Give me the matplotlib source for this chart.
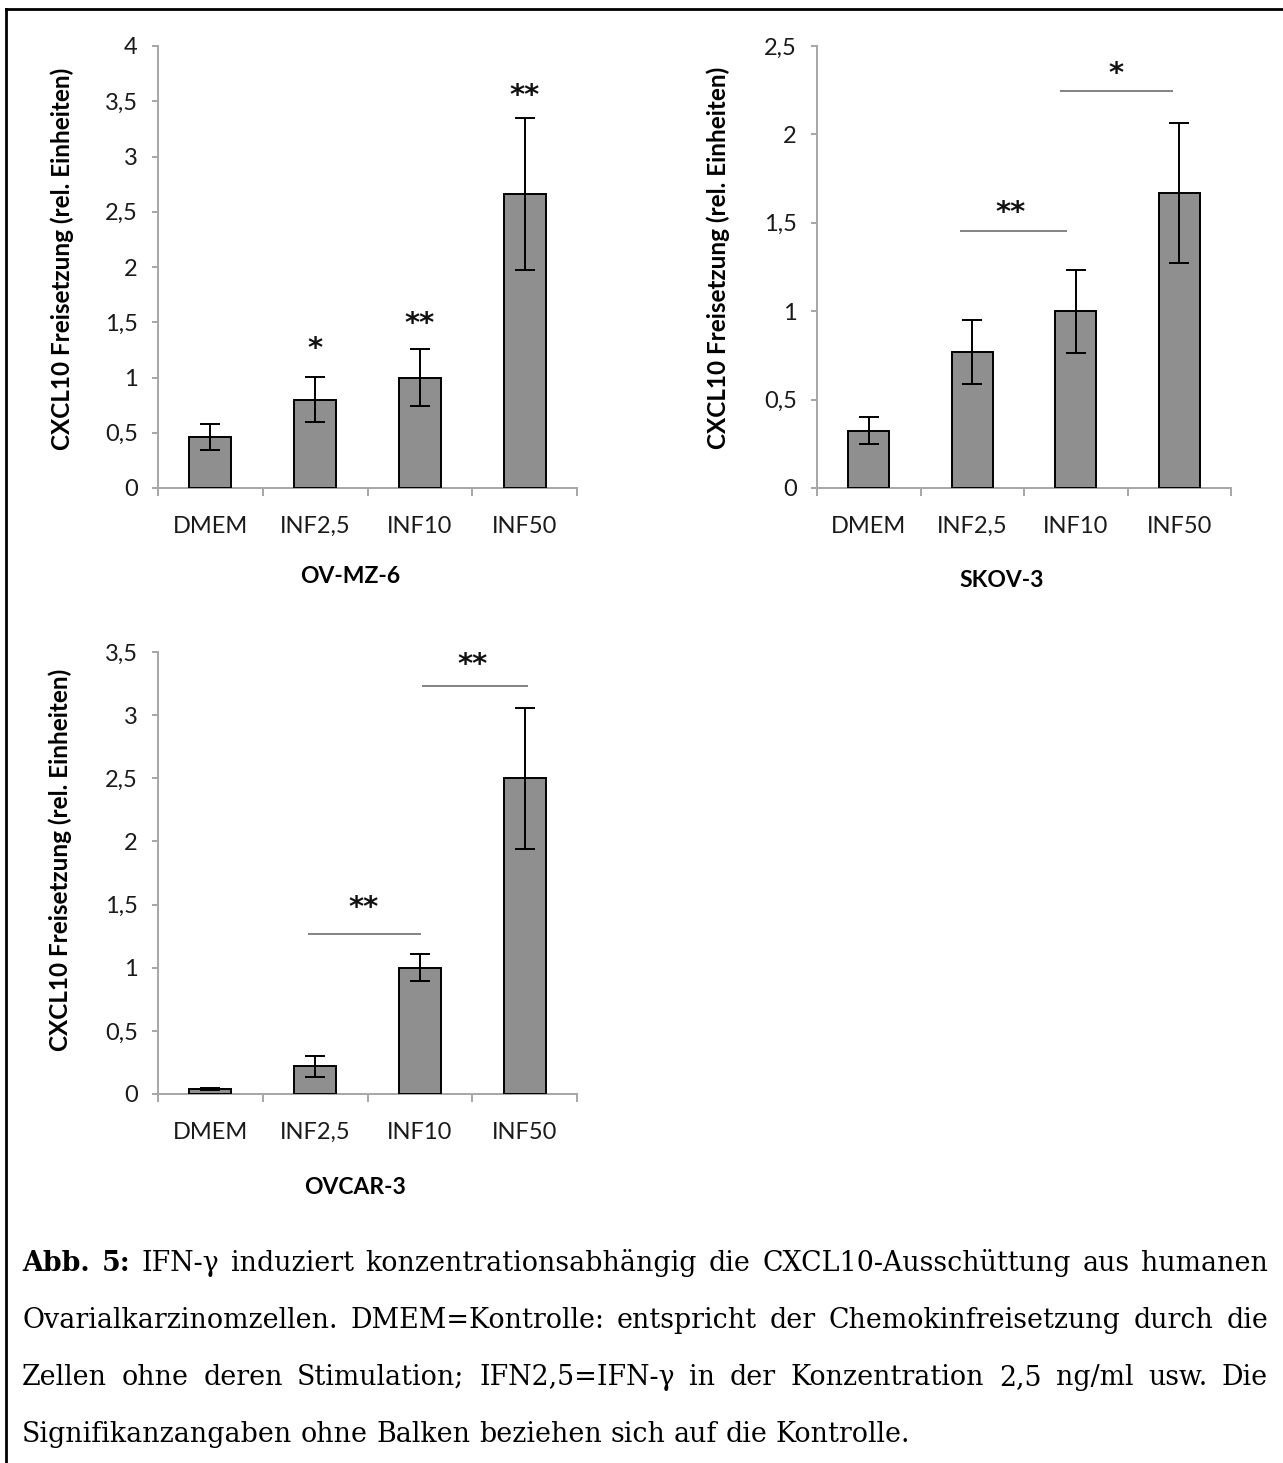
import numpy as np
import matplotlib.pyplot as plt
from matplotlib.lines import Line2D

plt.rcParams['font.family'] = ['Lato', 'DejaVu Sans']

categories = ["DMEM", "INF2,5", "INF10", "INF50"]

# OV-MZ-6
ovmz6_mean = [0.46, 0.80, 1.00, 2.66]
ovmz6_err = [0.115, 0.205, 0.26, 0.69]
ovmz6_yticks = [0, 0.5, 1, 1.5, 2, 2.5, 3, 3.5, 4]
ovmz6_stars = [(1, 1.33, "*"), (2, 1.56, "**"), (3, 3.62, "**")]
ovmz6_lines = []

# SKOV-3
skov3_mean = [0.325, 0.77, 1.00, 1.667]
skov3_err = [0.075, 0.18, 0.235, 0.395]
skov3_yticks = [0, 0.5, 1, 1.5, 2, 2.5]
skov3_stars = [(1.37, 1.60, "**"), (2.39, 2.39, "*")]
skov3_lines = [(0.885, 1.92, 1.455), (1.846, 2.94, 2.246)]

# OVCAR-3
ovcar3_mean = [0.04, 0.22, 1.00, 2.50]
ovcar3_err = [0.008, 0.083, 0.108, 0.558]
ovcar3_yticks = [0, 0.5, 1, 1.5, 2, 2.5, 3, 3.5]
ovcar3_stars = [(1.46, 1.54, "**"), (2.5, 3.46, "**")]
ovcar3_lines = [(0.93, 2.01, 1.27), (2.02, 3.03, 3.23)]

ylabel = "CXCL10 Freisetzung (rel. Einheiten)"

caption_lines = [
    "Abb. 5: IFN-γ induziert konzentrationsabhängig die CXCL10-Ausschüttung aus humanen",
    "Ovarialkarzinomzellen. DMEM=Kontrolle: entspricht der Chemokinfreisetzung durch die",
    "Zellen ohne deren Stimulation; IFN2,5=IFN-γ in der Konzentration 2,5 ng/ml usw. Die",
    "Signifikanzangaben ohne Balken beziehen sich auf die Kontrolle.",
]

W, H = 1283, 1463
fig = plt.figure(figsize=(W / 100, H / 100), dpi=100)

axis_grey = '#a6a6a6'


def fmt(v):
    s = ('%g' % v)
    return s.replace('.', ',')


def panel(rect, mean, err, yticks, stars, lines, name, ylab_xy, xlab_xy):
    ax = fig.add_axes(rect)
    x = np.arange(len(categories))
    ax.bar(x, mean, width=0.4, color='#8f8f8f', edgecolor='black', linewidth=1.4,
           yerr=err, capsize=7,
           error_kw=dict(elinewidth=1.4, capthick=1.4, ecolor='black'), zorder=3)
    ax.set_xlim(-0.5, len(categories) - 0.5)
    ax.set_ylim(0, yticks[-1])
    ax.set_yticks(yticks)
    ax.set_yticklabels([fmt(v) for v in yticks])
    ax.set_xticks(x)
    ax.set_xticklabels(categories)
    ax.set_xticks(np.arange(len(categories) + 1) - 0.5, minor=True)
    for s in ['top', 'right']:
        ax.spines[s].set_visible(False)
    for s in ['left', 'bottom']:
        ax.spines[s].set_color(axis_grey)
        ax.spines[s].set_linewidth(1.4)
    ax.tick_params(axis='y', direction='out', length=4.5, width=1.4, color=axis_grey,
                   labelsize=17, labelcolor='#1a1a1a', pad=10)
    ax.tick_params(axis='x', which='major', length=0, labelsize=17,
                   labelcolor='#1a1a1a', pad=20)
    ax.tick_params(axis='x', which='minor', direction='out', length=6, width=1.4,
                   color=axis_grey)
    for x0, x1, y in lines:
        ax.plot([x0, x1], [y, y], color='#7a7a7a', lw=1.3, solid_capstyle='butt',
                clip_on=False)
    for sx, sy, s in stars:
        ax.annotate(s, (sx, sy), xytext=(0, -6), textcoords='offset points',
                    ha='center', va='center', fontsize=21, fontweight='bold',
                    family='DejaVu Sans', color='#111111', annotation_clip=False)
    ax.text(ylab_xy[0], ylab_xy[1], ylabel, transform=ax.transAxes, rotation=90,
            ha='center', va='center', fontsize=17.5, fontweight='bold')
    ax.text(xlab_xy[0], xlab_xy[1], name, transform=ax.transAxes,
            ha='center', va='center', fontsize=16.5, fontweight='bold')
    return ax


panel([158 / W, 1 - 488 / H, 419 / W, 442 / H], ovmz6_mean, ovmz6_err, ovmz6_yticks,
      ovmz6_stars, ovmz6_lines, "OV-MZ-6", (-0.229, 0.519), (0.458, -0.201))
panel([817 / W, 1 - 488 / H, 414 / W, 442 / H], skov3_mean, skov3_err, skov3_yticks,
      skov3_stars, skov3_lines, "SKOV-3", (-0.239, 0.52), (0.445, -0.21))
panel([158 / W, 1 - 1094 / H, 419 / W, 442 / H], ovcar3_mean, ovcar3_err, ovcar3_yticks,
      ovcar3_stars, ovcar3_lines, "OVCAR-3", (-0.234, 0.529), (0.47, -0.212))

# frame (only top and left edges are visible in the reference)
fig.add_artist(Line2D([6 / W, 1], [1 - 9 / H, 1 - 9 / H], color='black', lw=2,
                      transform=fig.transFigure))
fig.add_artist(Line2D([6 / W, 6 / W], [0, 1 - 9 / H], color='black', lw=2,
                      transform=fig.transFigure))

# justified caption
serif = ['DejaVu Serif']
left_px, right_px = 22, 1268
baselines = [1271, 1328, 1385, 1442]
renderer = fig.canvas.get_renderer()


def word_w(word, weight, fs):
    t = fig.text(0, 0, word, fontsize=fs, family=serif, weight=weight)
    w = t.get_window_extent(renderer).width
    t.remove()
    return w


# pick the size so the last (unjustified) line is as long as in the original
cap_fs = 20 * 887 / word_w(caption_lines[-1], 'normal', 20)
space_w = word_w("a a", 'normal', cap_fs) - 2 * word_w("a", 'normal', cap_fs)
for i, line in enumerate(caption_lines):
    words = line.split(' ')
    weights = ['bold' if (i == 0 and j < 2) else 'normal' for j in range(len(words))]
    widths = [word_w(w, wt, cap_fs) for w, wt in zip(words, weights)]
    if i < len(caption_lines) - 1:
        gap = (right_px - left_px - sum(widths)) / (len(words) - 1)
    else:
        gap = space_w
    xpos = left_px
    for w, wt, ww in zip(words, weights, widths):
        fig.text(xpos / W, 1 - baselines[i] / H, w, fontsize=cap_fs, family=serif,
                 weight=wt, ha='left', va='baseline', color='black')
        xpos += ww + gap

fig.savefig('out.png', dpi=100)
